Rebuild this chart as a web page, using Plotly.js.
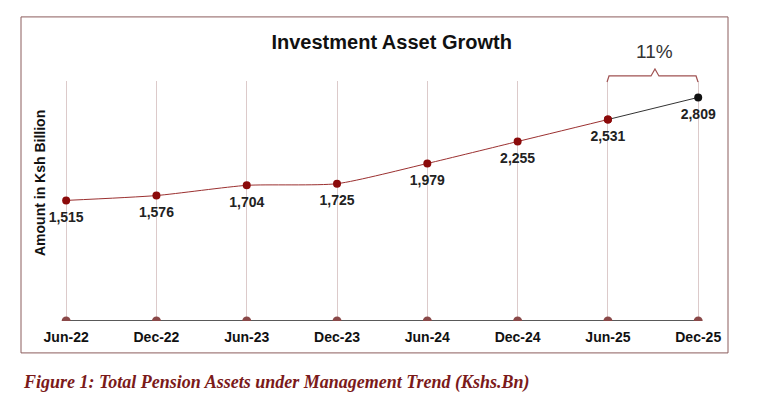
<!DOCTYPE html>
<html><head><meta charset="utf-8">
<script src="https://cdn.plot.ly/plotly-3.0.1.min.js"></script>
<style>html,body{margin:0;padding:0;background:#fff}#chart{width:768px;height:402px}</style>
</head><body><div id="chart"></div>
<script>
const periods = ["Jun-22","Dec-22","Jun-23","Dec-23","Jun-24","Dec-24","Jun-25","Dec-25"];
const assets = [1515, 1576, 1704, 1725, 1979, 2255, 2531, 2809];
const baseline = [0, 0, 0, 0, 0, 0, 0, 0];
const growthLabel = "11%";
const fmt = v => v.toLocaleString('en-US');

const F = "Arial, 'Liberation Sans', sans-serif";
const red = "#8b0a0a";

const traces = [
  {x: periods, y: baseline, mode: 'lines+markers', hoverinfo: 'skip',
   line: {color: '#222', width: 1.5}, marker: {color: '#8a4848', size: 9}},
  {x: periods.slice(0, 7), y: assets.slice(0, 7), mode: 'lines+markers',
   line: {color: '#9b3030', width: 1, shape: 'spline', smoothing: 0.6},
   marker: {color: red, size: 8}},
  {x: periods.slice(6), y: assets.slice(6), mode: 'lines+markers',
   line: {color: '#333', width: 1},
   marker: {color: [red, '#111'], size: 8}},
  {x: periods, y: assets, mode: 'markers+text',
   text: assets.map(fmt), textposition: 'bottom center',
   textfont: {family: F, size: 14, color: '#222', weight: 'bold'},
   marker: {size: 16, opacity: 0}}
];

const layout = {
  width: 768, height: 402,
  margin: {l: 21, r: 40, t: 81, b: 81},
  paper_bgcolor: '#fff', plot_bgcolor: '#fff',
  showlegend: false,
  title: {text: 'Investment Asset Growth', x: 0.51, xanchor: 'center', y: 0.896, yanchor: 'middle',
          font: {family: F, size: 20, color: '#111', weight: 'bold'}},
  xaxis: {type: 'category', range: [-0.5, 7.33], showgrid: true, gridcolor: '#dccaca', gridwidth: 1,
          showline: false, zeroline: false, ticks: '', ticklabelstandoff: 6,
          tickfont: {family: F, size: 14, color: '#111', weight: 'bold'}, fixedrange: true},
  yaxis: {range: [0, 3015], showgrid: false, zeroline: false, showticklabels: false, showline: false, fixedrange: true},
  shapes: [
    {type: 'rect', xref: 'paper', yref: 'paper', x0: 0, x1: 1, y0: -0.133, y1: 1.267,
     line: {color: '#8b5c5c', width: 1}, fillcolor: 'rgba(0,0,0,0)'},
    {type: 'path', xref: 'paper', yref: 'paper',
     path: 'M 0.8289 0.996 L 0.8317 1.021 L 0.8911 1.021 L 0.8967 1.05 L 0.9023 1.021 L 0.9548 1.021 L 0.9576 0.996',
     line: {color: '#a05252', width: 1.2}}
  ],
  annotations: [
    {text: growthLabel, xref: 'paper', yref: 'paper', x: 0.8967, y: 1.121, showarrow: false,
     xanchor: 'center', yanchor: 'middle', font: {family: F, size: 19, color: '#333'}},
    {text: 'Amount in Ksh Billion', xref: 'paper', yref: 'paper', x: 0.0269, y: 0.575, textangle: -90,
     showarrow: false, xanchor: 'center', yanchor: 'middle', font: {family: F, size: 14, color: '#111', weight: 'bold'}},
    {text: 'Figure 1: Total Pension Assets under Management Trend (Kshs.Bn)', xref: 'paper', yref: 'paper',
     x: 0, y: -0.258, xanchor: 'left', yanchor: 'middle', showarrow: false,
     font: {family: "'Liberation Serif', 'DejaVu Serif', serif", size: 18, color: '#7b1a1a', weight: 'bold', style: 'italic'}}
  ]
};

Plotly.newPlot('chart', traces, layout, {displayModeBar: false, staticPlot: true});
</script></body></html>
